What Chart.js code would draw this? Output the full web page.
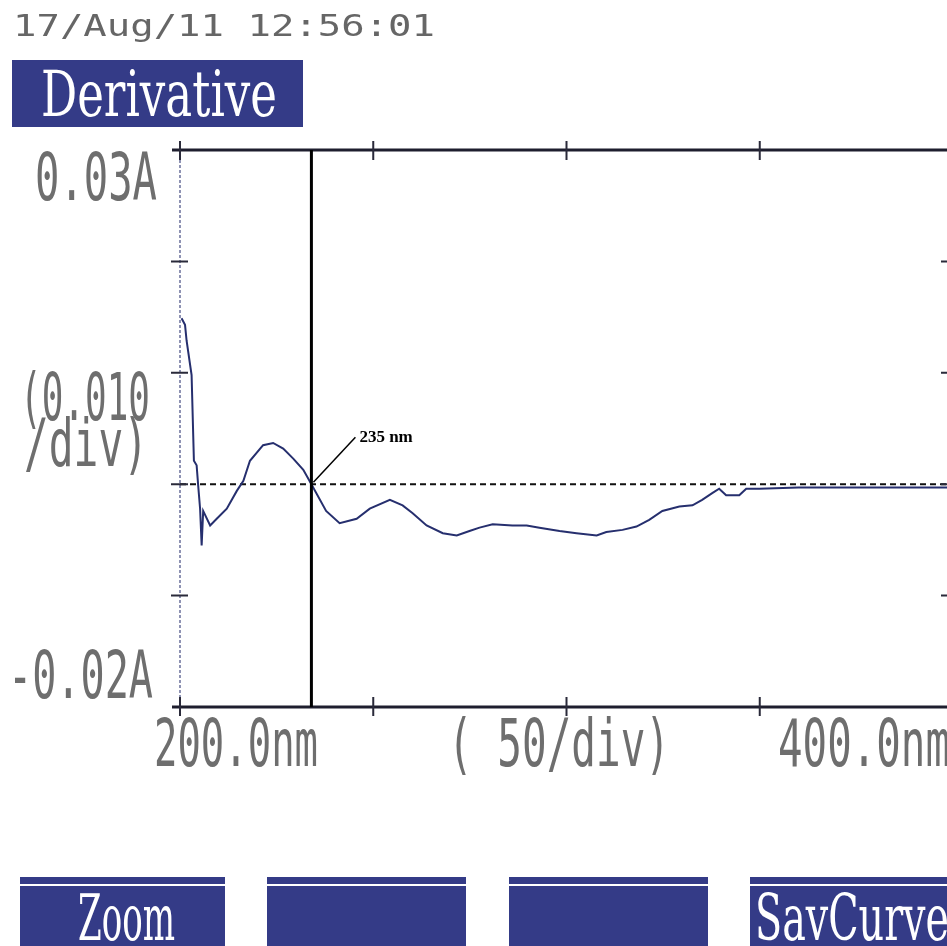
<!DOCTYPE html>
<html>
<head>
<meta charset="utf-8">
<script src="https://cdn.jsdelivr.net/npm/chart.js@4/dist/chart.umd.min.js"></script>
<style>
  html, body { margin: 0; padding: 0; background: #ffffff; overflow: hidden; }
  #wrap { position: absolute; left: 0; top: 0; width: 960px; height: 946px; }
</style>
</head>
<body>
<div id="wrap"><canvas id="chart" width="960" height="946"></canvas></div>
<script>
// wavelength (nm) and first derivative of absorbance
var aWavelength = [200.4, 201.3, 201.7, 203.0, 203.6, 204.3, 204.7, 205.2, 205.6, 206.0,
    207.8, 209.5, 212.1, 214.7, 216.4, 218.1, 221.5, 224.1, 226.7, 229.3,
    231.9, 234.0, 237.8, 241.3, 245.7, 249.1, 254.3, 257.6, 260.2, 263.8,
    268.0, 271.6, 274.9, 277.5, 280.9, 286.0, 289.7, 293.0, 298.2, 302.6,
    307.8, 310.3, 314.5, 318.1, 321.4, 324.8, 329.2, 332.6, 335.1, 337.7,
    339.5, 341.3, 344.7, 346.5, 349.9, 360.0, 375.0, 390.0, 400.0];
var aDerivative = [0.0149, 0.0143, 0.0129, 0.0098, 0.0021, 0.0017, -0.0001, -0.0022, -0.0055, -0.0024,
    -0.0037, -0.0031, -0.0022, -0.0006, 0.0003, 0.0021, 0.0035, 0.0037, 0.0032, 0.0023,
    0.0013, 0.0000, -0.0024, -0.0035, -0.0031, -0.0022, -0.0014, -0.0019, -0.0026, -0.0037,
    -0.0044, -0.0046, -0.0042, -0.0039, -0.0036, -0.0037, -0.0037, -0.0039, -0.0042, -0.0044,
    -0.0046, -0.0043, -0.0041, -0.0038, -0.0032, -0.0024, -0.0020, -0.0019, -0.0014, -0.0008,
    -0.0004, -0.0010, -0.0010, -0.0004, -0.0004, -0.0003, -0.0003, -0.0003, -0.0003];

var aXTicks = [250, 300, 350];                  // 50/div
var aYTicks = [0.02, 0.01, 0, -0.01];           // 0.010/div
var fXMin = 200, fXMax = 400;
var fYMin = -0.02, fYMax = 0.03;
var fCursor = 234;                              // where the cursor sits on the plot
var sCursorLabel = '235 nm';

var sHeaderDate = '17/Aug/11 12:56:01';
var sHeaderMode = 'Derivative';
var aButtons = ['Zoom', '', '', 'SavCurve'];

var sNavy = '#343b87';
var sInk = '#6e6e6e';
var sMono = '"DejaVu Sans Mono"';
var sSerif = '"DejaVu Serif"';

// draw text squeezed/stretched horizontally to a given width
function drawFit(ctx, sText, x, y, iSize, iWidth, sAlign, sColor, sFamily) {
    ctx.save();
    ctx.font = iSize + 'px ' + (sFamily || sMono);
    var fScale = iWidth / ctx.measureText(sText).width;
    ctx.translate(x, y);
    ctx.scale(fScale, 1);
    ctx.textAlign = sAlign;
    ctx.textBaseline = 'alphabetic';
    ctx.fillStyle = sColor;
    ctx.fillText(sText, 0, 0);
    ctx.restore();
}

var oFramePlugin = {
    id: 'printoutFrame',
    beforeDatasetsDraw: function(chart) {
        var ctx = chart.ctx, a = chart.chartArea;
        var sy = chart.scales.y;
        ctx.save();
        // left axis, dotted
        ctx.strokeStyle = '#6a6f9a';
        ctx.lineWidth = 1.5;
        ctx.setLineDash([3, 2]);
        ctx.beginPath();
        ctx.moveTo(a.left, a.top);
        ctx.lineTo(a.left, a.bottom);
        ctx.stroke();
        // zero reference, dashed
        var y0 = sy.getPixelForValue(0);
        ctx.strokeStyle = '#111111';
        ctx.lineWidth = 2;
        ctx.setLineDash([6, 4]);
        ctx.beginPath();
        ctx.moveTo(a.left, y0);
        ctx.lineTo(a.right, y0);
        ctx.stroke();
        ctx.restore();
    },
    afterDraw: function(chart) {
        var ctx = chart.ctx, a = chart.chartArea;
        var sx = chart.scales.x, sy = chart.scales.y;
        ctx.save();

        // top and bottom frame
        ctx.strokeStyle = '#1e1e2e';
        ctx.lineWidth = 3;
        ctx.beginPath();
        ctx.moveTo(a.left - 8, a.top);
        ctx.lineTo(a.right, a.top);
        ctx.moveTo(a.left - 8, a.bottom);
        ctx.lineTo(a.right, a.bottom);
        ctx.stroke();

        // tick marks
        ctx.lineWidth = 2;
        ctx.strokeStyle = '#2a2a3a';
        ctx.beginPath();
        aXTicks.forEach(function(v) {
            var x = sx.getPixelForValue(v);
            ctx.moveTo(x, a.top - 9); ctx.lineTo(x, a.top + 10);
            ctx.moveTo(x, a.bottom - 10); ctx.lineTo(x, a.bottom + 9);
        });
        ctx.moveTo(a.left, a.top - 9); ctx.lineTo(a.left, a.top + 10);
        ctx.moveTo(a.left, a.bottom - 10); ctx.lineTo(a.left, a.bottom + 9);
        aYTicks.forEach(function(v) {
            var y = sy.getPixelForValue(v);
            ctx.moveTo(a.left - 9, y); ctx.lineTo(a.left + 8, y);
            ctx.moveTo(a.right - 12, y); ctx.lineTo(a.right, y);
        });
        ctx.stroke();

        // cursor
        var xc = sx.getPixelForValue(fCursor);
        var yc = sy.getPixelForValue(0);
        ctx.strokeStyle = '#000000';
        ctx.lineWidth = 3;
        ctx.beginPath();
        ctx.moveTo(xc, a.top);
        ctx.lineTo(xc, a.bottom);
        ctx.stroke();

        // annotation with leader line
        ctx.lineWidth = 1.5;
        ctx.beginPath();
        ctx.moveTo(xc + 2, yc - 2);
        ctx.lineTo(xc + 44, yc - 47);
        ctx.stroke();
        ctx.font = 'bold 17px "Liberation Serif"';
        ctx.fillStyle = '#000000';
        ctx.textAlign = 'left';
        ctx.textBaseline = 'alphabetic';
        ctx.fillText(sCursorLabel, xc + 48, yc - 42);

        // axis captions in printer style
        drawFit(ctx, '0.03A', 157, 200, 66, 122, 'right', sInk);
        drawFit(ctx, '(0.010', 20, 420, 66, 130, 'left', sInk);
        drawFit(ctx, '/div)', 24, 466, 66, 124, 'left', sInk);
        drawFit(ctx, '-0.02A', 153, 698, 66, 145, 'right', sInk);
        drawFit(ctx, '200.0nm', 154, 766, 66, 164, 'left', sInk);
        drawFit(ctx, '( 50/div)', 448, 766, 66, 222, 'left', sInk);
        drawFit(ctx, '400.0nm', 778, 766, 66, 172, 'left', sInk);

        // header
        drawFit(ctx, sHeaderDate, 13, 36, 30, 422, 'left', '#666666');
        ctx.fillStyle = sNavy;
        ctx.fillRect(12, 60, 291, 67);
        drawFit(ctx, sHeaderMode, 41, 116, 64, 236, 'left', '#ffffff', sSerif);

        // soft key row
        var aBtnX = [20, 267, 509, 750];
        var aBtnW = [205, 199, 199, 210];
        aButtons.forEach(function(sLabel, i) {
            ctx.fillStyle = sNavy;
            ctx.fillRect(aBtnX[i], 877, aBtnW[i], 75);
            ctx.fillStyle = '#ffffff';
            ctx.fillRect(aBtnX[i], 884, aBtnW[i], 2);
            if (sLabel == 'Zoom')
                drawFit(ctx, sLabel, 78, 940, 64, 97, 'left', '#ffffff', sSerif);
            else if (sLabel)
                drawFit(ctx, sLabel, 755, 940, 64, 194, 'left', '#ffffff', sSerif);
        });

        ctx.restore();
    }
};

var aPoints = aWavelength.map(function(x, i) { return {x: x, y: aDerivative[i]}; });

new Chart(document.getElementById('chart'), {
    type: 'line',
    data: {
        datasets: [{
            label: 'Derivative',
            data: aPoints,
            borderColor: '#262f6e',
            borderWidth: 2,
            pointRadius: 0,
            tension: 0,
            fill: false
        }]
    },
    options: {
        responsive: false,
        animation: false,
        devicePixelRatio: 1,
        layout: { padding: { left: 180, top: 150, right: 7, bottom: 239 } },
        plugins: { legend: { display: false }, tooltip: { enabled: false } },
        scales: {
            x: { type: 'linear', min: fXMin, max: fXMax, display: false },
            y: { type: 'linear', min: fYMin, max: fYMax, display: false }
        }
    },
    plugins: [oFramePlugin]
});
</script>
</body>
</html>
